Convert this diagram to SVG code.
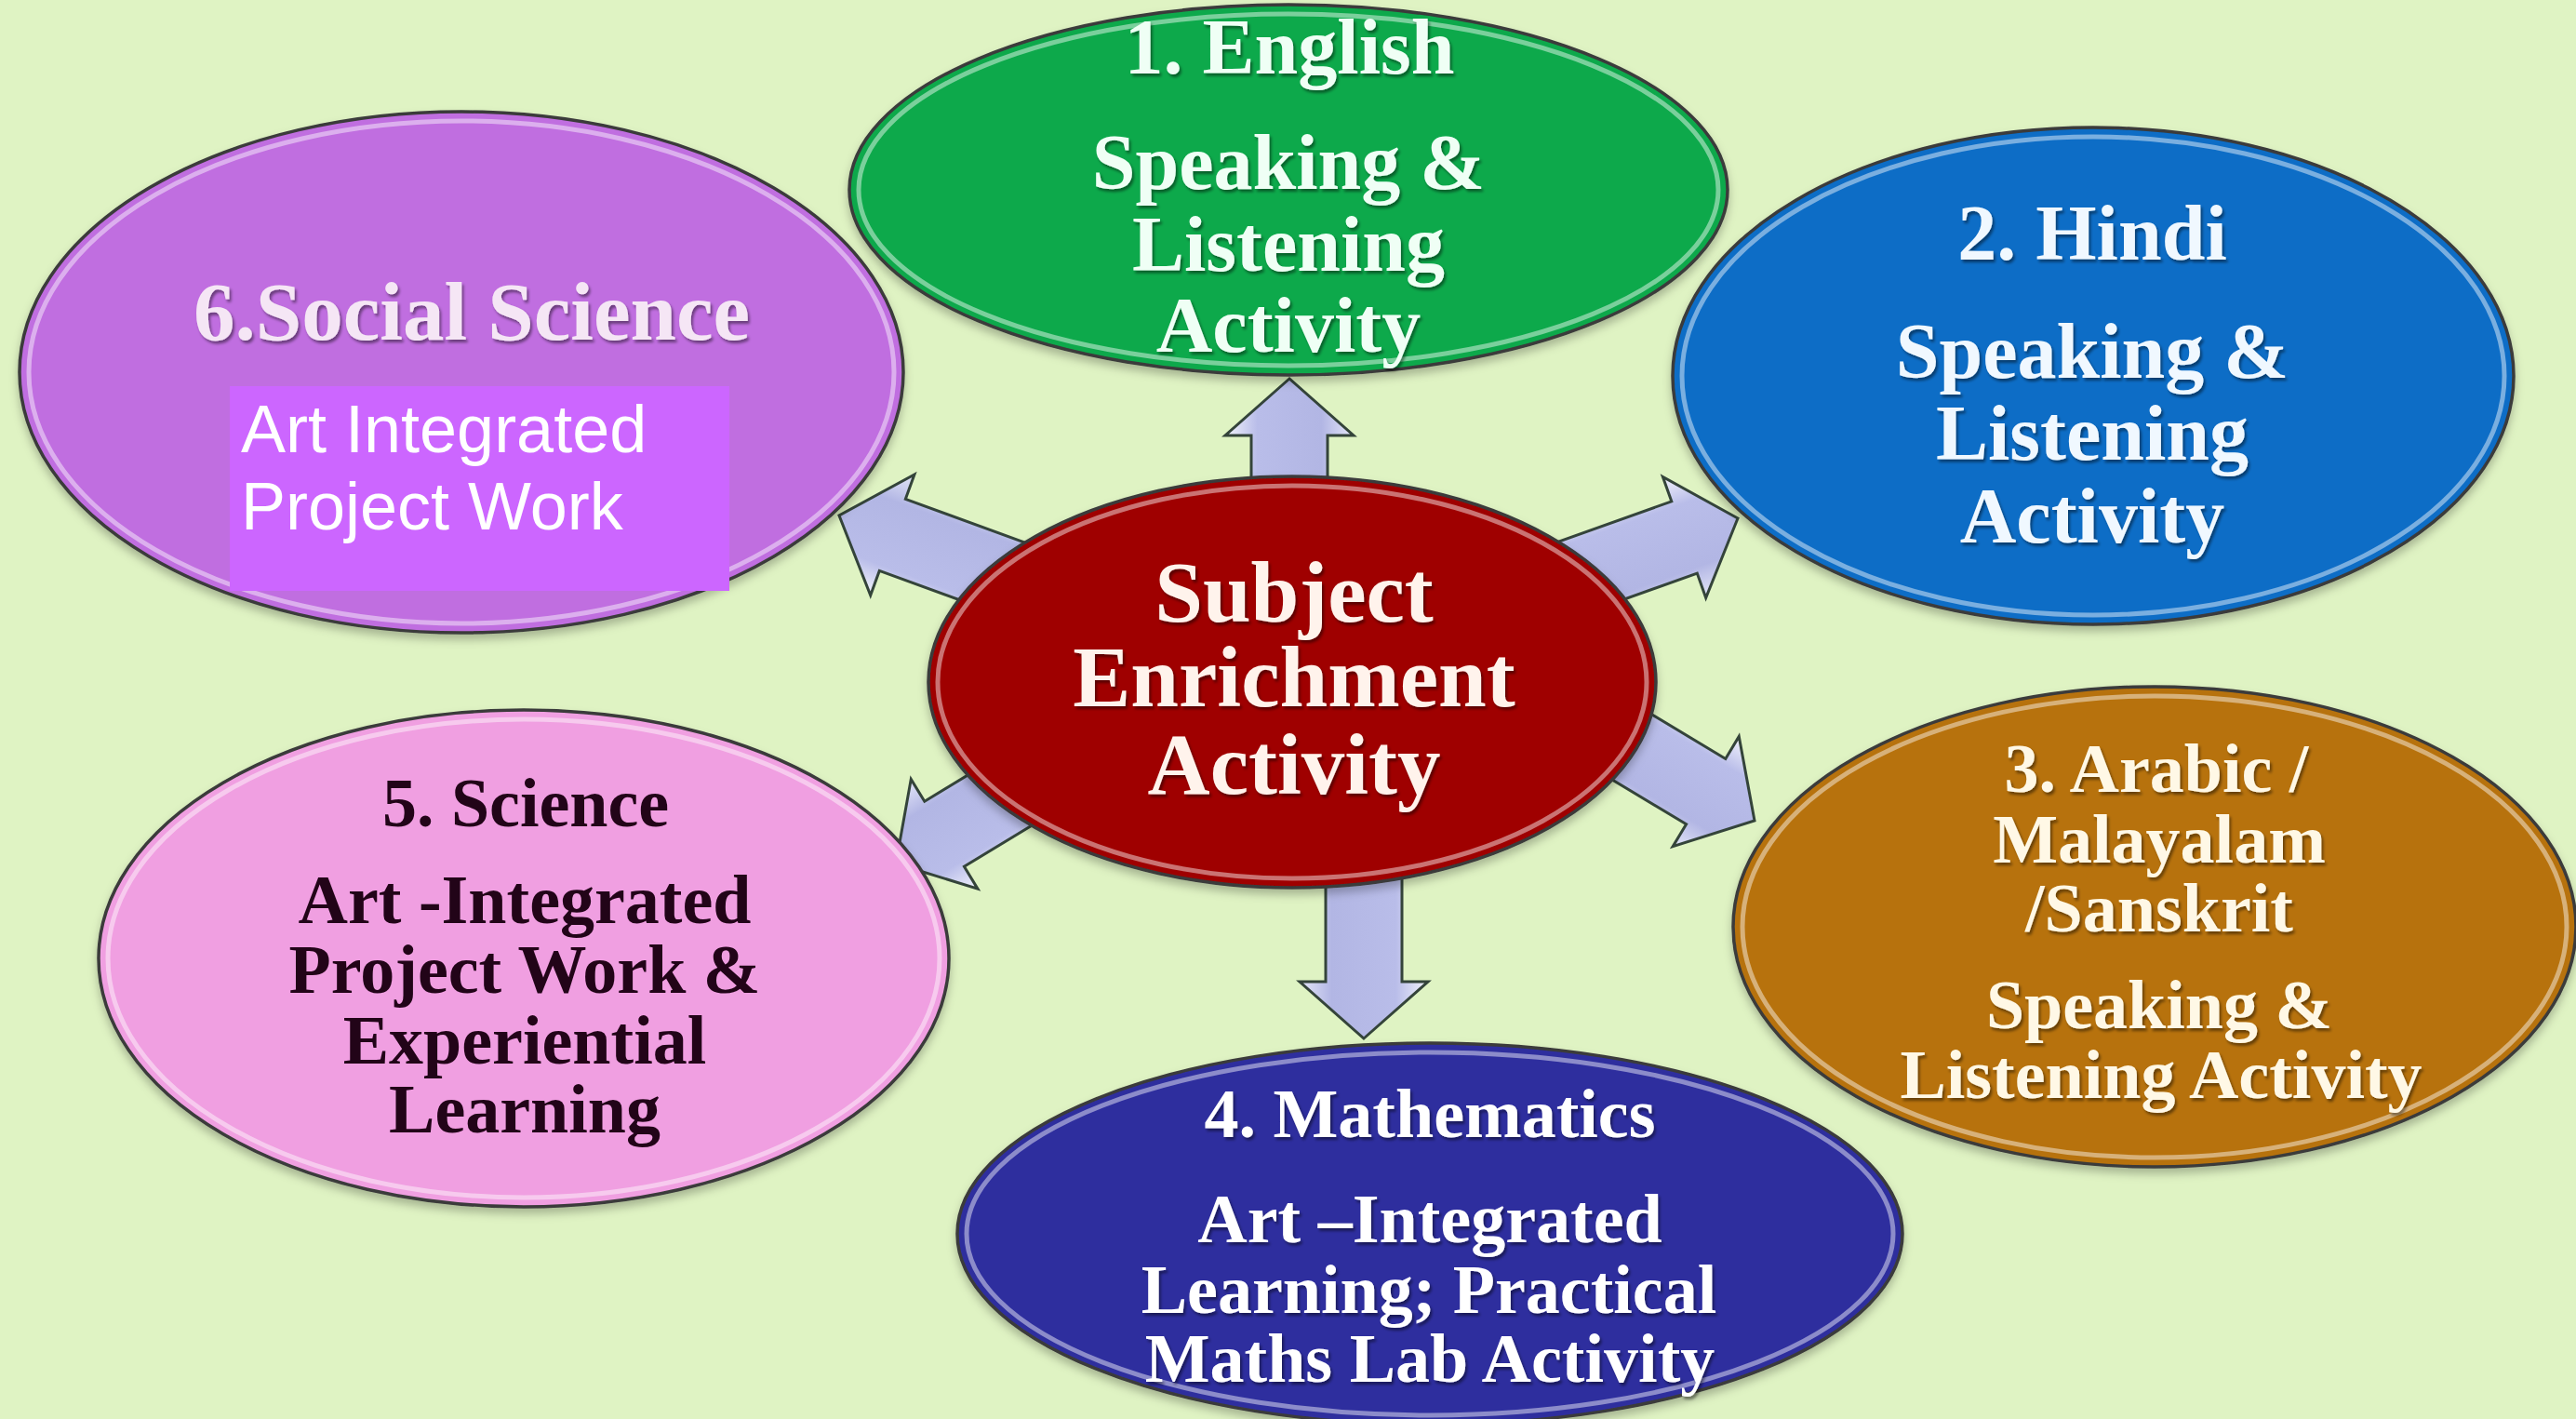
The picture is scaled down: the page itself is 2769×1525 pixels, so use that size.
<svg xmlns="http://www.w3.org/2000/svg" xmlns:xlink="http://www.w3.org/1999/xlink" width="2769" height="1525" viewBox="0 0 2769 1525">
<defs>
<style>
.t{font-family:"Liberation Serif","DejaVu Serif",serif;font-weight:bold;text-anchor:middle;filter:url(#ts)}
.node{stroke:#3b3b3b;stroke-width:3.5}
.rim{fill:none;stroke:#ffffff;stroke-opacity:0.45;stroke-width:5}
.arr{fill:url(#ag);stroke:#34443a;stroke-width:3;stroke-linejoin:miter}
</style>
<filter id="ts" x="-10%" y="-30%" width="120%" height="160%">
<feDropShadow dx="2" dy="3" stdDeviation="1.5" flood-color="#000" flood-opacity="0.45"/>
</filter>
<filter id="es" x="-5%" y="-5%" width="110%" height="115%">
<feDropShadow dx="0" dy="6" stdDeviation="5" flood-color="#000" flood-opacity="0.25"/>
</filter>
<linearGradient id="ag" x1="0" y1="0" x2="0" y2="1">
<stop offset="0" stop-color="#f2f3fc"/>
<stop offset="0.25" stop-color="#b9bde9"/>
<stop offset="0.75" stop-color="#b2b6e4"/>
<stop offset="1" stop-color="#e4e6f8"/>
</linearGradient>
<path id="arrow" d="M0,0 L-61,-69 L-61,-41 L-210,-41 L-210,41 L-61,41 L-61,69 Z"/>
</defs>
<rect width="2769" height="1525" fill="#dff3c3"/>

<g id="connectors">
<use href="#arrow" class="arr" transform="translate(1386,407) rotate(-90)"/>
<use href="#arrow" class="arr" transform="translate(1868,557) rotate(-19.6)"/>
<use href="#arrow" class="arr" transform="translate(1886,882) rotate(31)"/>
<use href="#arrow" class="arr" transform="translate(1466,1116) rotate(90)"/>
<use href="#arrow" class="arr" transform="translate(963,928) rotate(148.7)"/>
<use href="#arrow" class="arr" transform="translate(902,554) rotate(200)"/>
</g>

<g id="node-english">
<ellipse cx="1385" cy="204" rx="472" ry="199" fill="#10a94b" class="node" filter="url(#es)"/>
<ellipse cx="1385" cy="204" rx="462" ry="189" class="rim"/>
<g class="t" font-size="84" fill="#effff5">
<text x="1386" y="79">1. English</text>
<text x="1385" y="203">Speaking &amp;</text>
<text x="1385" y="291">Listening</text>
<text x="1385" y="378">Activity</text>
</g>
</g>

<g id="node-hindi">
<ellipse cx="2250" cy="404" rx="452" ry="267" fill="#0b6dc6" class="node" filter="url(#es)"/>
<ellipse cx="2250" cy="404" rx="442" ry="257" class="rim"/>
<g class="t" font-size="84" fill="#f0f8ff">
<text x="2249" y="279">2. Hindi</text>
<text x="2249" y="406">Speaking &amp;</text>
<text x="2249" y="494">Listening</text>
<text x="2249" y="583">Activity</text>
</g>
</g>

<g id="node-arabic">
<ellipse cx="2316" cy="996" rx="453" ry="258" fill="#b7720e" class="node" filter="url(#es)"/>
<ellipse cx="2316" cy="996" rx="443" ry="248" class="rim"/>
<g class="t" font-size="74" fill="#fff8e6">
<text x="2318" y="851">3. Arabic /</text>
<text x="2321" y="927">Malayalam</text>
<text x="2321" y="1001">/Sanskrit</text>
<text x="2321" y="1105">Speaking &amp;</text>
<text x="2323" y="1180">Listening Activity</text>
</g>
</g>

<g id="node-math">
<ellipse cx="1537" cy="1326" rx="508" ry="205" fill="#2f2f9e" class="node" filter="url(#es)"/>
<ellipse cx="1537" cy="1326" rx="498" ry="195" class="rim"/>
<g class="t" font-size="74" fill="#ffffff">
<text x="1537" y="1222">4. Mathematics</text>
<text x="1537" y="1335">Art –Integrated</text>
<text x="1536" y="1411">Learning; Practical</text>
<text x="1537" y="1485">Maths Lab Activity</text>
</g>
</g>

<g id="node-science">
<ellipse cx="563" cy="1030" rx="457" ry="267" fill="#f09fe1" class="node" filter="url(#es)"/>
<ellipse cx="563" cy="1030" rx="447" ry="257" class="rim"/>
<g class="t" font-size="74" fill="#220418" style="filter:none">
<text x="565" y="888">5. Science</text>
<text x="564" y="992">Art -Integrated</text>
<text x="564" y="1067">Project Work &amp;</text>
<text x="564" y="1143">Experiential</text>
<text x="564" y="1217">Learning</text>
</g>
</g>

<g id="node-social">
<ellipse cx="496" cy="400" rx="475" ry="280" fill="#c06ee0" class="node" filter="url(#es)"/>
<ellipse cx="496" cy="400" rx="465" ry="270" class="rim"/>
<text x="507" y="365" class="t" font-size="89" fill="#f5e6f5">6.Social Science</text>
<rect x="247" y="415" width="537" height="220" fill="#cc66ff"/>
<g font-family="Liberation Sans, Arial, sans-serif" font-size="72" fill="#ffffff">
<text x="259" y="486">Art Integrated</text>
<text x="259" y="569">Project Work</text>
</g>
</g>

<g id="node-center">
<ellipse cx="1389" cy="733" rx="391" ry="221" fill="#9f0000" class="node" filter="url(#es)"/>
<ellipse cx="1389" cy="733" rx="381" ry="211" class="rim"/>
<g class="t" font-size="93" fill="#fff3ec">
<text x="1391" y="668">Subject</text>
<text x="1391" y="759">Enrichment</text>
<text x="1391" y="853">Activity</text>
</g>
</g>
</svg>
